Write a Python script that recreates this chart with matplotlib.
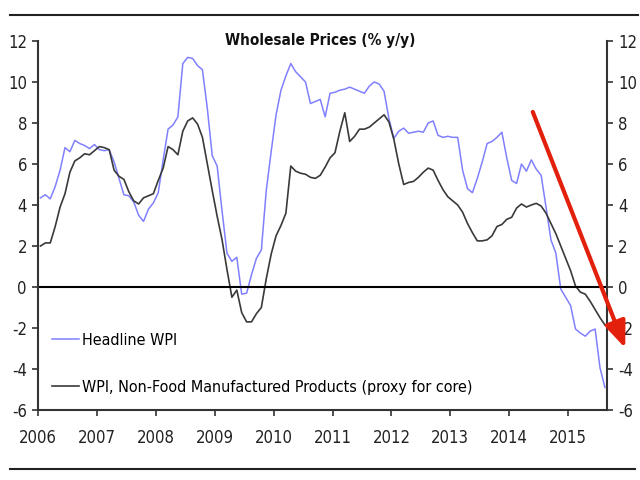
import numpy as np
import matplotlib
matplotlib.use("Agg")
import matplotlib.pyplot as plt
from matplotlib.lines import Line2D

plt.rcParams['font.family'] = ['DejaVu Sans']
plt.rcParams['font.stretch'] = 'condensed'
plt.rcParams['axes.unicode_minus'] = False

# monthly data, Jan 2006 - Aug 2015 (% y/y)
headline = [4.35, 4.5, 4.3, 4.9, 5.7, 6.8, 6.6, 7.15, 7.0, 6.9, 6.75, 6.95,
            6.7, 6.65, 6.7, 6.1, 5.3, 4.5, 4.45, 4.15, 3.5, 3.2, 3.8, 4.1,
            4.6, 6.2, 7.7, 7.9, 8.3, 10.9, 11.2, 11.15, 10.8, 10.6, 8.7, 6.4,
            5.9, 3.7, 1.65, 1.25, 1.45, -0.35, -0.3, 0.6, 1.4, 1.8, 4.7, 6.6,
            8.4, 9.6, 10.3, 10.9, 10.5, 10.25, 10.0, 8.95, 9.05, 9.15, 8.3, 9.45,
            9.5, 9.6, 9.65, 9.75, 9.65, 9.55, 9.45, 9.8, 10.0, 9.9, 9.55, 8.2,
            7.25, 7.6, 7.75, 7.5, 7.55, 7.6, 7.55, 8.0, 8.1, 7.4, 7.3, 7.35,
            7.3, 7.3, 5.7, 4.8, 4.6, 5.3, 6.1, 7.0, 7.1, 7.3, 7.55, 6.3,
            5.2, 5.05, 6.0, 5.65, 6.2, 5.75, 5.45, 3.9, 2.3, 1.65, -0.1, -0.5,
            -0.9, -2.05, -2.25, -2.4, -2.15, -2.05, -3.95, -4.9]

core = [2.0, 2.15, 2.15, 2.95, 3.9, 4.55, 5.6, 6.15, 6.3, 6.5, 6.45, 6.65,
        6.85, 6.8, 6.7, 5.7, 5.4, 5.25, 4.65, 4.2, 4.05, 4.35, 4.45, 4.55,
        5.2, 5.8, 6.85, 6.7, 6.45, 7.6, 8.1, 8.25, 7.95, 7.3, 6.0, 4.7,
        3.45, 2.3, 0.85, -0.5, -0.15, -1.25, -1.7, -1.7, -1.3, -1.0, 0.4, 1.6,
        2.5, 3.0, 3.6, 5.9, 5.65, 5.55, 5.5, 5.35, 5.3, 5.45, 5.85, 6.3,
        6.55, 7.6, 8.5, 7.1, 7.35, 7.7, 7.7, 7.8, 8.0, 8.2, 8.4, 8.05,
        7.2, 6.0, 5.0, 5.1, 5.15, 5.35, 5.6, 5.8, 5.7, 5.2, 4.75, 4.4,
        4.2, 4.0, 3.65, 3.1, 2.65, 2.25, 2.25, 2.3, 2.5, 2.95, 3.05, 3.3,
        3.4, 3.85, 4.05, 3.9, 4.0, 4.08, 3.95, 3.6, 3.1, 2.6, 2.0, 1.4,
        0.8, 0.05, -0.25, -0.35, -0.7, -1.1, -1.5, -1.85]

years = list(range(2006, 2016))
yticks = list(range(-6, 13, 2))

dates = 2006 + (np.arange(len(headline)) + 0.5) / 12.0

fig = plt.figure(figsize=(6.4, 4.8), dpi=100)
ax = fig.add_axes([38/640, 1 - 410/480, (607 - 38)/640, (410 - 41)/480])

ax.plot(dates, headline, color='#8080ff', lw=1.1, label='Headline WPI')
ax.plot(dates, core, color='#3a3a3a', lw=1.2,
        label='WPI, Non-Food Manufactured Products (proxy for core)')
ax.axhline(0, color='black', lw=1.5)

ax.set_xlim(2006, 2015.66)
ax.set_ylim(-6, 12)
ax.set_xticks(years)
ax.set_xticklabels([str(y) for y in years])
ax.set_yticks(yticks)
ax.set_yticklabels([str(v) for v in yticks])

ax.spines['top'].set_visible(False)
for s in ['left', 'right', 'bottom']:
    ax.spines[s].set_color('#333333')
    ax.spines[s].set_linewidth(1.5)
ax.tick_params(axis='both', direction='out', length=4, width=1.2,
               color='#333333', labelsize=12, labelcolor='#222222')
ax.tick_params(axis='y', right=True, labelright=True, pad=4)
ax.tick_params(axis='x', pad=10)

# red trend arrow
ax.annotate('', xy=(2015.97, -2.98), xytext=(2014.40, 8.54),
            arrowprops=dict(arrowstyle='-|>,head_length=0.8,head_width=0.32',
                            color='#e2200c', lw=3, mutation_scale=20,
                            shrinkA=0, shrinkB=0),
            annotation_clip=False)

ax.legend(loc='upper left', bbox_to_anchor=((52 - 38)/569, (410 - 333)/369),
          frameon=False, fontsize=11.5, handlelength=1.7, handletextpad=0.15,
          labelspacing=2.0, borderpad=0, borderaxespad=0)

fig.text(0.5, 1 - 40/480, 'Wholesale Prices (% y/y)', ha='center', va='center',
         fontsize=11, fontweight='bold', color='#111111')

fig.add_artist(Line2D([10/640, 638/640], [1 - 15/480] * 2, color='#222222', lw=1.5))
fig.add_artist(Line2D([10/640, 635/640], [1 - 469/480] * 2, color='#222222', lw=1.5))

fig.savefig('out.png', dpi=100)
